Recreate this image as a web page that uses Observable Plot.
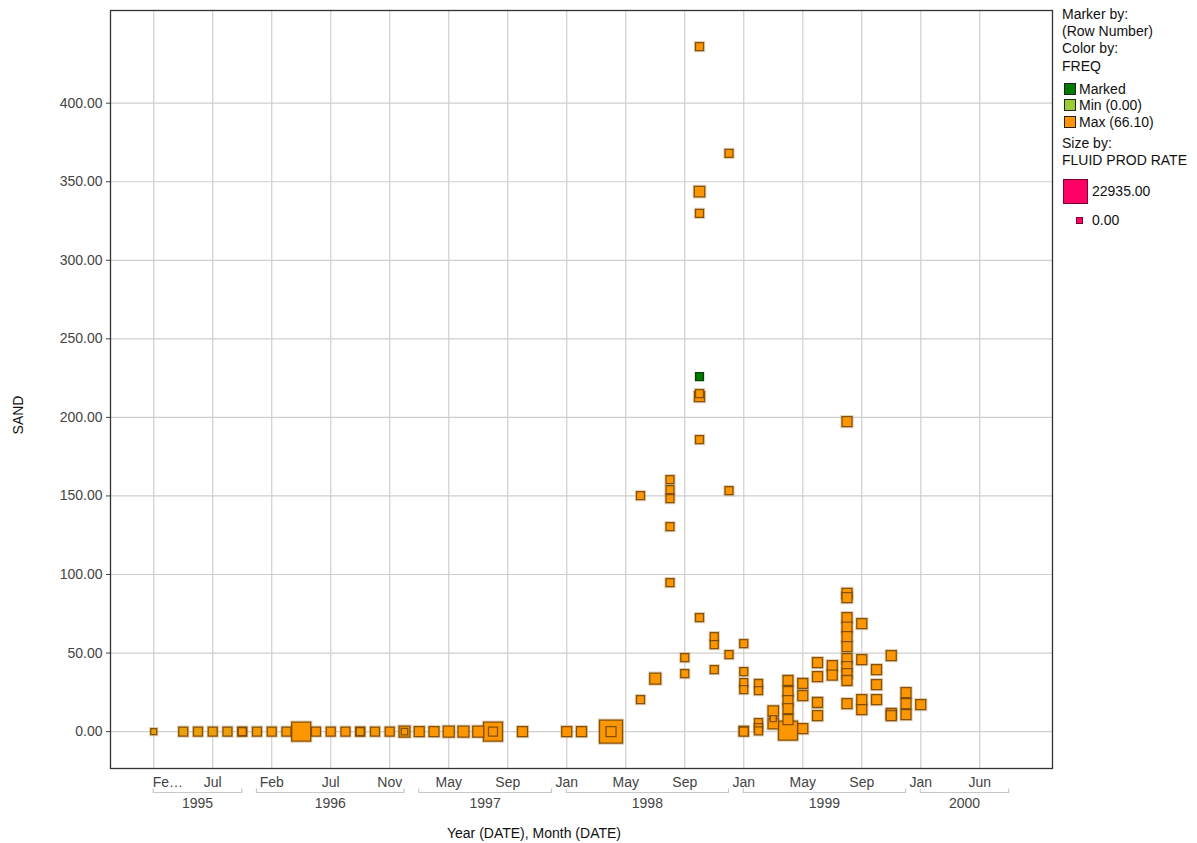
<!DOCTYPE html>
<html>
<head>
<meta charset="utf-8">
<script src="https://cdn.jsdelivr.net/npm/d3@7"></script>
<script src="https://cdn.jsdelivr.net/npm/@observablehq/plot@0.6"></script>
<style>
  body { margin: 0; background: #fff; font-family: "Liberation Sans", Arial, sans-serif; }
  #wrap { position: relative; width: 1197px; height: 843px; overflow: hidden; }
  .lg { position: absolute; font-size: 14px; line-height: 17px; color: #111; white-space: nowrap; }
  .sw { position: absolute; box-sizing: border-box; }
</style>
</head>
<body>
<div id="wrap"></div>
<script>
// ---- categories (months present on the categorical axis) ----
const months = [
  "1995-02","1995-04","1995-05","1995-06","1995-07","1995-08","1995-10",
  "1996-01","1996-02","1996-03","1996-04","1996-05","1996-07","1996-08","1996-09","1996-10","1996-11","1996-12",
  "1997-02","1997-04","1997-05","1997-06","1997-07","1997-08","1997-09","1997-10","1997-11","1997-12",
  "1998-01","1998-02","1998-03","1998-04","1998-05","1998-06","1998-07","1998-08","1998-09","1998-10","1998-11","1998-12",
  "1999-01","1999-02","1999-03","1999-04","1999-05","1999-06","1999-07","1999-08","1999-09","1999-10","1999-11","1999-12",
  "2000-01","2000-02","2000-03","2000-04","2000-06","2000-07","2000-08"
];
const monthNames = ["Jan","Feb","Mar","Apr","May","Jun","Jul","Aug","Sep","Oct","Nov","Dec"];
const yTicks = [0, 50, 100, 150, 200, 250, 300, 350, 400];
const years = ["1995","1996","1997","1998","1999","2000"];

// ---- series ----
const pointMonth = [
  "1995-02","1995-05","1995-06","1995-07","1995-08","1995-10","1995-10",
  "1996-01","1996-02","1996-03","1996-04","1996-05","1996-07","1996-08","1996-09","1996-09","1996-10","1996-11","1996-12","1996-12",
  "1997-02","1997-04","1997-05","1997-06","1997-07","1997-08","1997-08","1997-10",
  "1998-01","1998-02","1998-04","1998-04",
  "1998-06","1998-06","1998-07",
  "1998-08","1998-08","1998-08","1998-08","1998-08",
  "1998-09","1998-09",
  "1998-10","1998-10","1998-10","1998-10","1998-10","1998-10","1998-10",
  "1998-11","1998-11","1998-11",
  "1998-12","1998-12","1998-12",
  "1999-01","1999-01","1999-01","1999-01","1999-01","1999-01",
  "1999-02","1999-02","1999-02","1999-02","1999-02",
  "1999-03","1999-03","1999-03",
  "1999-04","1999-04","1999-04","1999-04","1999-04","1999-04",
  "1999-05","1999-05","1999-05",
  "1999-06","1999-06","1999-06","1999-06",
  "1999-07","1999-07",
  "1999-08","1999-08","1999-08","1999-08","1999-08","1999-08","1999-08","1999-08","1999-08","1999-08","1999-08","1999-08",
  "1999-09","1999-09","1999-09","1999-09",
  "1999-10","1999-10","1999-10",
  "1999-11","1999-11","1999-11",
  "1999-12","1999-12","1999-12",
  "2000-01"
];
const pointSand = [
  0,0,0,0,0,0,0,
  0,0,0,0,0,0,0,0,0,0,0,0,0,
  0,0,0,0,0,0,0,0,
  0,0,0,0,
  20.4,150.2,33.7,
  160.4,154,148.3,130.5,94.8,
  47.1,36.9,
  436,343.7,329.8,215.1,213.2,185.9,72.6,
  60.5,55.4,39.5,
  368,153.4,49,
  56,38.2,31.2,26.7,0.5,0,
  30.6,26.1,5.7,2.5,0.5,
  13,5,8.3,
  32.5,25.5,19.7,14.6,7.6,0.6,
  30.6,22.9,1.9,
  43.9,35,18.5,10.2,
  42,36,
  197.3,88,85.3,72.6,66.5,60.5,54.1,46.5,41.4,36.9,32.5,17.8,
  68.7,45.8,20.4,14,
  39.5,29.9,20.4,
  48.4,11.5,10.2,
  24.8,17.8,10.8,
  17.2
];
const pointRate = [
  1270,5100,5100,5100,5100,5100,3820,
  5100,5100,5100,17840,5100,5100,5100,5100,3820,5100,5100,7650,1900,
  6370,6370,7650,7650,7650,17840,5100,6370,
  6370,6370,22935,6370,
  3820,3820,7650,
  3820,3820,3820,3820,3820,
  3820,3820,
  3820,7000,3820,3820,6370,3820,3820,
  3820,3820,3820,
  3820,3820,3820,
  3820,3820,3820,3820,5100,5100,
  3820,3820,3820,3820,3820,
  7000,7000,1270,
  6370,6370,6370,6370,6370,17840,
  6370,6370,6370,
  6370,6370,6370,6370,
  6370,6370,
  6370,6370,6370,6370,6370,6370,6370,6370,6370,6370,6370,6370,
  6370,6370,6370,6370,
  6370,6370,6370,
  6370,6370,6370,
  6370,6370,6370,
  6370
];
const pointFreq = [
  50,53,54,55,55,60,60,
  58,60,60,64,64,64,64,58,58,60,62,60,60,
  64,64,64,64,64,64,64,65,
  65,65,64,64,
  64,64,64,
  64,64,64,64,64,
  64,64,
  64,64,64,64,64,64,64,
  64,64,64,
  64,64,64,
  64,64,64,64,64,64,
  64,64,64,64,64,
  64,64,64,
  64,64,64,64,64,64,
  64,64,64,
  64,64,64,64,
  64,64,
  64,64,64,64,64,64,64,64,64,64,64,64,
  64,64,64,64,
  64,64,64,
  64,64,64,
  64,64,64,
  64
];
// marked row
const markedMonth = ["1998-10"];
const markedSand = [226];
const markedRate = [3820];

const rows = pointMonth.map((m, i) => ({month: m, sand: pointSand[i], rate: pointRate[i], freq: pointFreq[i]}));
const marked = markedMonth.map((m, i) => ({month: m, sand: markedSand[i], rate: markedRate[i]}));

const tickMonths = months.filter((d, i) => i % 4 === 0);
const firstLabel = "Fe\u2026";
const fmtMonth = d => d === months[0] ? firstLabel : monthNames[+d.slice(5) - 1];

const SQ = Math.sqrt(Math.PI);
const plot = Plot.plot({
  width: 1197,
  height: 843,
  marginLeft: 110,
  marginRight: 145,
  marginTop: 10,
  marginBottom: 75,
  style: {fontFamily: "'Liberation Sans', Arial, sans-serif", fontSize: "14px", background: "#fff"},
  x: {type: "point", domain: months, padding: 2.93},
  y: {domain: [-23.5, 459]},
  r: {type: "linear", domain: [0, 22935], range: [5 / SQ, 23 / SQ]},
  color: {type: "linear", domain: [0, 66.1], range: ["#9acd32", "#ff9400"]},
  marks: [
    Plot.gridY({ticks: yTicks, stroke: "#cfcfcf", strokeOpacity: 1, strokeWidth: 1.2}),
    Plot.gridX({ticks: tickMonths, stroke: "#cfcfcf", strokeOpacity: 1, strokeWidth: 1.2}),
    Plot.axisY({ticks: yTicks, tickFormat: d3.format(".2f"), tickSize: 4, tickPadding: 4, color: "#444", label: null}),
    Plot.axisX({ticks: tickMonths, tickFormat: fmtMonth, tickSize: 0, tickPadding: 9, color: "#444", label: null}),
    Plot.dot(rows, {x: "month", y: "sand", r: "rate", symbol: "square", fill: "none",
      stroke: "#c49a60", strokeOpacity: 0.45, strokeWidth: 3.2}),
    Plot.dot(rows, {x: "month", y: "sand", r: "rate", symbol: "square", fill: "freq",
      fillOpacity: 1, stroke: "#7a4700", strokeOpacity: 0.9, strokeWidth: 1.3}),
    Plot.dot(marked, {x: "month", y: "sand", r: "rate", symbol: "square", fill: "#007a00",
      stroke: "#004400", strokeWidth: 1.3}),
    Plot.frame({stroke: "#333", strokeWidth: 1.3})
  ]
});

document.getElementById("wrap").appendChild(plot);

// truncated first month label starts at its tick, as in the original
d3.select(plot).selectAll("text").filter(function () { return this.textContent === firstLabel; })
  .attr("text-anchor", "start").style("text-anchor", "start").attr("dx", -1);

// year brackets, year labels, axis titles via the plot's own x scale
const xs = plot.scale("x");
const svg = d3.select(plot);
const g = svg.append("g");
years.forEach(yr => {
  const ms = months.filter(m => m.startsWith(yr));
  const x1 = xs.apply(ms[0]), x2 = xs.apply(ms[ms.length - 1]);
  g.append("path")
    .attr("d", `M${x1},788.5V792.5H${x2}V788.5`)
    .attr("fill", "none").attr("stroke", "#c8c8c8").attr("stroke-width", 1.2);
  g.append("text")
    .attr("x", (x1 + x2) / 2).attr("y", 808)
    .attr("text-anchor", "middle").attr("fill", "#444")
    .attr("font-size", 14).text(yr);
});
g.append("text").attr("x", 534).attr("y", 838).attr("text-anchor", "middle")
  .attr("fill", "#111").attr("font-size", 14).text("Year (DATE), Month (DATE)");
g.append("text").attr("transform", "translate(23,415) rotate(-90)").attr("text-anchor", "middle")
  .attr("fill", "#111").attr("font-size", 14).text("SAND");

// legend
const wrap = document.getElementById("wrap");
function txt(t, x, yc) {
  const d = document.createElement("div");
  d.className = "lg"; d.textContent = t;
  d.style.left = x + "px"; d.style.top = (yc - 8.5) + "px";
  wrap.appendChild(d);
}
function sw(x, y, s, fill, stroke) {
  const d = document.createElement("div");
  d.className = "sw";
  d.style.left = x + "px"; d.style.top = y + "px";
  d.style.width = s + "px"; d.style.height = s + "px";
  d.style.background = fill; d.style.border = "1px solid " + stroke;
  wrap.appendChild(d);
}
txt("Marker by:", 1062, 14);
txt("(Row Number)", 1062, 31);
txt("Color by:", 1062, 48);
txt("FREQ", 1062, 66);
sw(1064, 83, 12, "#007a00", "#222"); txt("Marked", 1079, 89);
sw(1064, 99, 12, "#9acd32", "#222"); txt("Min (0.00)", 1079, 105);
sw(1064, 116, 12, "#ff9400", "#222"); txt("Max (66.10)", 1079, 122);
txt("Size by:", 1062, 143);
txt("FLUID PROD RATE", 1062, 160);
sw(1063, 179, 25, "#ff0066", "#7a0033"); txt("22935.00", 1092, 191);
sw(1076, 217, 7, "#ff0066", "#7a0033"); txt("0.00", 1092, 220);
</script>
</body>
</html>
